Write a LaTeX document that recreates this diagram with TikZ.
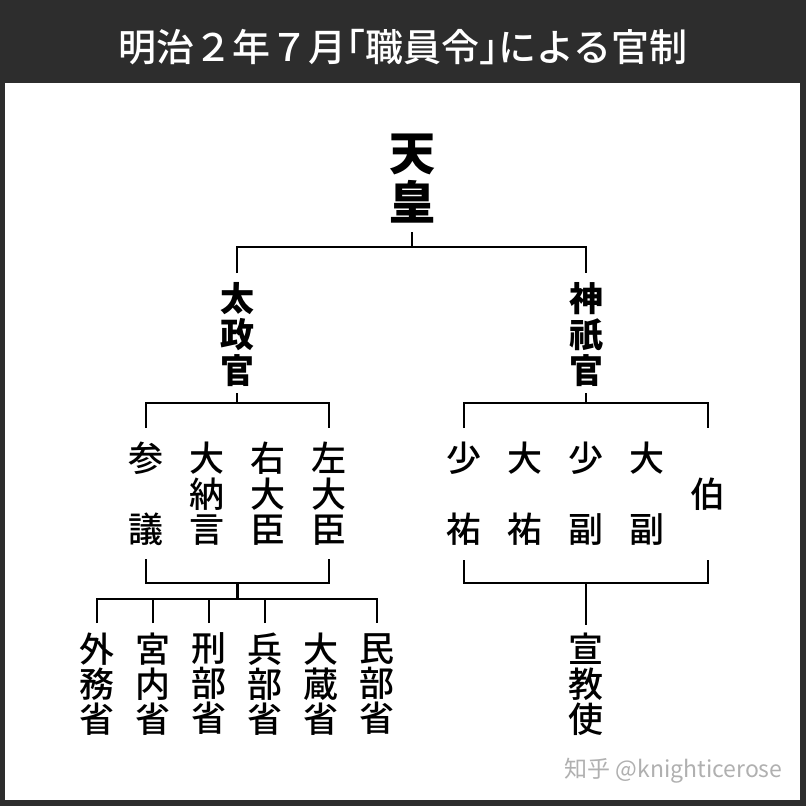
\documentclass[tikz,border=0pt]{standalone}
\usepackage{fontspec}
\setmainfont{Noto Sans CJK JP}
\newfontfamily\jpmed{Noto Sans CJK JP Medium}
\newfontfamily\scfont{Noto Sans CJK SC}
\usetikzlibrary{calc}
\definecolor{barbg}{RGB}{45,45,45}
\definecolor{markgray}{RGB}{176,176,176}

\begin{document}
\begin{tikzpicture}[x=1pt, y=-1pt,
  line/.style={line width=2.4pt},
  head/.style={inner sep=0pt, align=center, font=\fontsize{34}{36}\selectfont\bfseries},
  post/.style={inner sep=0pt, align=center, font=\jpmed\fontsize{35}{35.5}\selectfont},
  office/.style={inner sep=0pt, align=center, font=\jpmed\fontsize{35}{35}\selectfont}]
  \useasboundingbox (0,0) rectangle (806,806);
  % frame + title bar
  \fill[barbg] (0,0) rectangle (806,806);
  \fill[white] (5,83) rectangle (800,800);
  \node[text=white, font=\jpmed\fontsize{38}{38}\selectfont] (title) at (403,47)
    {明治２年７月\kern-.5em「職員令」\kern-.5em{}による官制};
  % TENNO
  \node[inner sep=0pt, align=center, font=\fontsize{46}{49}\selectfont\bfseries] (tenno) at (412,179) {天\\皇};
  % DAJOKAN + JINGIKAN
  \node[head] (dajokan) at (237,335) {太\\政\\官};
  \node[head] (jingikan) at (586,335) {神\\祇\\官};
  % line + bar
  \draw[line] ($(tenno)+(0,53)$) -- ++(0,15) coordinate (t-bar);
  \draw[line] ($(dajokan)+(0,-62)$) |- (t-bar) -| ($(jingikan)+(0,-62)$);
  % posts under dajokan
  \node[post] (sangi) at (146,494) {参\\[35.5pt]議};
  \node[post] (dainagon) at (207,494) {大\\納\\言};
  \node[post] (udaijin) at (268,494) {右\\大\\臣};
  \node[post] (sadaijin) at (329,494) {左\\大\\臣};
  % posts under jingikan
  \node[post] (shoyu) at (464,494) {少\\[35.5pt]祐};
  \node[post] (taiyu) at (525,494) {大\\[35.5pt]祐};
  \node[post] (shofuku) at (586,494) {少\\[35.5pt]副};
  \node[post] (taifuku) at (647,494) {大\\[35.5pt]副};
  \node[post] (haku) at (708,494) {伯};
  % line + bar
  \draw[line] ($(dajokan)+(0,58)$) -- ++(0,10) coordinate (d-bar);
  \draw[line] ($(sangi)+(0,-66)$) |- (d-bar) -| ($(sadaijin)+(0,-66)$);
  \draw[line] ($(jingikan)+(0,58)$) -- ++(0,10) coordinate (j-bar);
  \draw[line] ($(shoyu)+(0,-66)$) |- (j-bar) -| ($(haku)+(0,-66)$);
  % lower brackets
  \draw[line] ($(sangi)+(0,65)$) -- ++(0,24) -| ($(sadaijin)+(0,65)$);
  \draw[line] ($(shoyu)+(0,66)$) -- ++(0,23) -| ($(haku)+(0,66)$);
  % ministries
  \node[office] (gaimu) at (97,684) {外\\務\\省};
  \node[office] (kunai) at (153,684) {宮\\内\\省};
  \node[office] (gyobu) at (209,684) {刑\\部\\省};
  \node[office] (hyobu) at (265,684) {兵\\部\\省};
  \node[office] (okura) at (321,684) {大\\蔵\\省};
  \node[office] (minbu) at (377,684) {民\\部\\省};
  \node[office] (senkyoshi) at (586,684) {宣\\教\\使};
  % line + bar
  \draw[line] ($(sangi)!.5!(sadaijin)+(0,89)$) -- ++(0,16) coordinate (m-bar);
  \draw[line] ($(gaimu)+(0,-61)$) |- (m-bar) -| ($(minbu)+(0,-61)$);
  \foreach \m in {kunai,gyobu,hyobu}
    \draw[line] ($(\m)+(0,-61)$) -- (\m |- m-bar);
  \draw[line] ($(shofuku)+(0,89)$) -- ($(senkyoshi)+(0,-59)$);
  % mark
  \node[text=markgray, font=\scfont\fontsize{23}{23}\selectfont, anchor=east] (mark) at (786,771) {知乎 @knighticerose};
\end{tikzpicture}
\end{document}
